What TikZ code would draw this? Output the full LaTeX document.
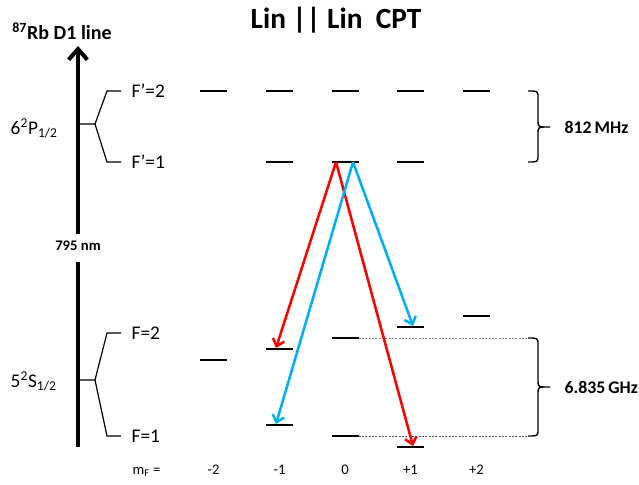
\documentclass[tikz,border=0pt]{standalone}
\usepackage{fontspec}
\setmainfont{Carlito}
\usetikzlibrary{arrows.meta}
\definecolor{cptred}{RGB}{255,0,0}
\definecolor{cptblue}{RGB}{0,176,240}
\begin{document}
\begin{tikzpicture}[x=0.75pt,y=-0.75pt,
  lvl/.style={line width=1.5pt},
  axisline/.style={line width=3pt},
  branch/.style={line width=0.9pt},
  trans/.style={line width=1.9pt,-{Straight Barb[length=5pt,width=9pt]}},
  dotline/.style={line width=0.6pt,gray,dash pattern=on 1.5pt off 1pt},
  bracepath/.style={line width=1pt},
  title/.style={font=\fontsize{22}{26}\selectfont\bfseries},
  lbl/.style={font=\fontsize{14.5}{17}\selectfont},
  small/.style={font=\fontsize{11}{13}\selectfont},
  freq/.style={font=\fontsize{13.3}{15}\selectfont\bfseries,anchor=west}]
\useasboundingbox (0,0) rectangle (639,485);

% title
\node[title] (ttl) at (336,20) {Lin || Lin\ \ CPT};
\node[font=\fontsize{15}{18}\selectfont\bfseries] (d1) at (62,31) {\textsuperscript{87}Rb D1 line};

% energy axis
\coordinate (axtop) at (78,46);
\coordinate (axmid) at (78,234);
\coordinate (axlow) at (78,262);
\coordinate (axbot) at (78,447);
\draw[axisline,-{Straight Barb[length=8pt,width=14pt]}] (axmid) -- (axtop);
\draw[axisline] (axlow) -- (axbot);
\node[font=\fontsize{11}{13}\selectfont\bfseries] (nm) at (78,246) {795 nm};

% fine structure labels
\node[lbl,anchor=west] (P) at (6,128) {6\textsuperscript{2}P\textsubscript{1/2}};
\node[lbl,anchor=west] (S) at (6,381) {5\textsuperscript{2}S\textsubscript{1/2}};

% hyperfine branches
\draw[branch] (78,124) -- (95,124) -- (107,91) -- (121,91);
\draw[branch] (95,124) -- (107,162) -- (121,162);
\draw[branch] (78,380) -- (95,380) -- (107,333) -- (121,333);
\draw[branch] (95,380) -- (107,436) -- (121,436);
\node[lbl,anchor=west] (Fp2) at (127,91) {F’=2};
\node[lbl,anchor=west] (Fp1) at (127,162) {F’=1};
\node[lbl,anchor=west] (F2) at (127,333) {F=2};
\node[lbl,anchor=west] (F1) at (127,436) {F=1};

% excited levels F'=2
\foreach \x in {213.5,279.5,345,410.5,476.5}
  \draw[lvl] (\x-13.5,91) -- (\x+13.5,91);
% excited levels F'=1
\foreach \x in {279.5,345,410.5}
  \draw[lvl] (\x-13.5,162) -- (\x+13.5,162);
% ground F=2
\draw[lvl] (200,360) -- (227,360);
\draw[lvl] (266,349) -- (293,349);
\draw[lvl] (331.5,338) -- (358.5,338);
\draw[lvl] (397,327) -- (424,327);
\draw[lvl] (463,316) -- (490,316);
% ground F=1
\draw[lvl] (266,425) -- (293,425);
\draw[lvl] (331.5,436) -- (358.5,436);
\draw[lvl] (397,447) -- (424,447);

% named points
\coordinate (exR) at (336,162);
\coordinate (exB) at (353,162);
\coordinate (g2m1) at (276,348);
\coordinate (g1m1) at (276,424);
\coordinate (g2p1) at (413,326);
\coordinate (g1p1) at (413,446);
\coordinate (g2z) at (358.5,338);
\coordinate (g1z) at (358.5,436);
\coordinate (bGtop) at (528,338);
\coordinate (bGbot) at (528,436);

% dotted guides
\draw[dotline] (g2z) -- (bGtop);
\draw[dotline,black!70] (g1z) -- (bGbot);

% transitions
\draw[trans,cptred] (exR) -- (g2m1);
\draw[trans,cptred] (exR) -- (g1p1);
\draw[trans,cptblue] (exB) -- (g1m1);
\draw[trans,cptblue] (exB) -- (g2p1);

% braces
\draw[bracepath] (528,91) .. controls (538,91) .. (538,98) -- (538,121)
  .. controls (538,127) .. (550,127) .. controls (538,127) .. (538,133)
  -- (538,155) .. controls (538,162) .. (528,162);
\draw[bracepath] (bGtop) .. controls (538,338) .. (538,345) -- (538,381)
  .. controls (538,387) .. (550,387) .. controls (538,387) .. (538,393)
  -- (538,429) .. controls (538,436) .. (bGbot);
\node[freq] (f812) at (560,127) {812\,MHz};
\node[freq] (f6835) at (560,387) {6.835\,GHz};

% m_F labels
\node[small,anchor=base west] (mF) at (128,474) {m\textsubscript{F} =};
\foreach \x/\t in {213.5/-2,279.5/-1,345/0,410.5/+1,476.5/+2}
  \node[small,anchor=base] at (\x,474) {\t};
\end{tikzpicture}
\end{document}
